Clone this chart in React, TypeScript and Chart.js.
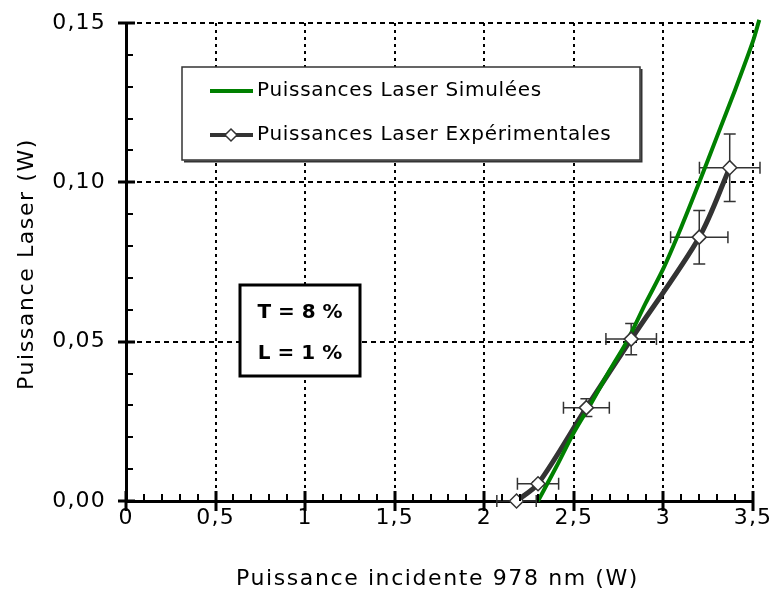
import React, { useEffect, useRef } from "react";
import { Chart, registerables } from "chart.js";

Chart.register(...registerables);

// ---------- data ----------
const simX = [2.3, 2.4, 2.5, 2.6, 2.7, 2.8, 2.9, 3.0, 3.1, 3.2, 3.3, 3.4, 3.5, 3.535];
const simY = [0, 0.0105, 0.0215, 0.031, 0.041, 0.0505, 0.062, 0.073, 0.086, 0.1, 0.1145, 0.129, 0.1443, 0.151];

const expX = [2.18, 2.3, 2.57, 2.82, 3.2, 3.37];
const expY = [0.0, 0.0054, 0.0293, 0.0508, 0.0828, 0.1046];
const expXErr = [0.11, 0.115, 0.128, 0.141, 0.16, 0.169];
const expYErr = [0, 0.0006, 0.0028, 0.0049, 0.0084, 0.0106];

const xTicks = [0, 0.5, 1, 1.5, 2, 2.5, 3, 3.5];
const yTicks = [0, 0.05, 0.1, 0.15];
const xMinorStep = 0.1;
const yMinorStep = 0.01;

const legendLabels = ["Puissances Laser Simulées", "Puissances Laser Expérimentales"];
const paramLines = ["T = 8 %", "L = 1 %"];
const xTitle = "Puissance incidente 978 nm (W)";
const yTitle = "Puissance Laser (W)";

const GREEN = "#008000";
const DARK = "#333333";
const FONT = "'DejaVu Sans', sans-serif";

const fmtX = (v: number) => String(v).replace(".", ",");
const fmtY = (v: number) => v.toFixed(2).replace(".", ",");

function drawDiamond(ctx: CanvasRenderingContext2D, x: number, y: number, r: number) {
  ctx.beginPath();
  ctx.moveTo(x, y - r);
  ctx.lineTo(x + r, y);
  ctx.lineTo(x, y + r);
  ctx.lineTo(x - r, y);
  ctx.closePath();
  ctx.fillStyle = "#fff";
  ctx.fill();
  ctx.strokeStyle = DARK;
  ctx.lineWidth = 1.5;
  ctx.stroke();
}

const spacingPlugin = {
  id: "spacing",
  beforeDraw(chart: any) {
    (chart.ctx as any).letterSpacing = "1.2px";
  },
};

const errorBarPlugin = {
  id: "errorBars",
  beforeDatasetsDraw(chart: any) {
    const { ctx, scales } = chart;
    const xs = scales.x, ys = scales.y;
    ctx.save();
    ctx.strokeStyle = DARK;
    ctx.lineWidth = 1.5;
    const cap = 6;
    expX.forEach((xv, i) => {
      const px = xs.getPixelForValue(xv);
      const py = ys.getPixelForValue(expY[i]);
      const xl = xs.getPixelForValue(xv - expXErr[i]);
      const xr = xs.getPixelForValue(xv + expXErr[i]);
      ctx.beginPath();
      ctx.moveTo(xl, py); ctx.lineTo(xr, py);
      ctx.moveTo(xl, py - cap); ctx.lineTo(xl, py + cap);
      ctx.moveTo(xr, py - cap); ctx.lineTo(xr, py + cap);
      if (expYErr[i] > 0) {
        const yt = ys.getPixelForValue(expY[i] + expYErr[i]);
        const yb = ys.getPixelForValue(expY[i] - expYErr[i]);
        ctx.moveTo(px, yt); ctx.lineTo(px, yb);
        ctx.moveTo(px - cap, yt); ctx.lineTo(px + cap, yt);
        ctx.moveTo(px - cap, yb); ctx.lineTo(px + cap, yb);
      }
      ctx.stroke();
    });
    ctx.restore();
  },
};

const decorPlugin = {
  id: "decor",
  afterDraw(chart: any) {
    const { ctx, scales, chartArea } = chart;
    const xs = scales.x, ys = scales.y;
    ctx.save();

    // minor / major ticks
    ctx.strokeStyle = "#000";
    const b = chartArea.bottom, l = chartArea.left;
    ctx.lineWidth = 2;
    ctx.beginPath();
    for (let v = xTicks[0]; v <= xTicks[xTicks.length - 1] + 1e-9; v += xMinorStep) {
      const px = Math.round(xs.getPixelForValue(v));
      ctx.moveTo(px, b); ctx.lineTo(px, b - 7);
    }
    for (let v = yTicks[0]; v <= yTicks[yTicks.length - 1] + 1e-9; v += yMinorStep) {
      const py = Math.round(ys.getPixelForValue(v));
      ctx.moveTo(l, py); ctx.lineTo(l + 7, py);
    }
    ctx.stroke();
    ctx.lineWidth = 3;
    ctx.beginPath();
    xTicks.forEach((v) => {
      const px = Math.round(xs.getPixelForValue(v));
      ctx.moveTo(px, b - 10); ctx.lineTo(px, b + 10);
    });
    yTicks.forEach((v) => {
      const py = Math.round(ys.getPixelForValue(v));
      ctx.moveTo(l - 8, py); ctx.lineTo(l + 9, py);
    });
    ctx.stroke();

    // axis titles
    ctx.fillStyle = "#000";
    ctx.font = `22px ${FONT}`;
    (ctx as any).letterSpacing = "1.6px";
    ctx.textAlign = "center";
    ctx.textBaseline = "middle";
    ctx.fillText(xTitle, (chartArea.left + chartArea.right) / 2 - 2, chartArea.bottom + 78);
    ctx.save();
    ctx.translate(27, (chartArea.top + chartArea.bottom) / 2 + 2);
    ctx.rotate(-Math.PI / 2);
    ctx.fillText(yTitle, 0, 0);
    ctx.restore();

    // legend box
    const lx = chartArea.left + 56, ly = chartArea.top + 44, lw = 458, lh = 93;
    ctx.fillStyle = "#fff";
    ctx.fillRect(lx, ly, lw, lh);
    ctx.strokeStyle = DARK;
    ctx.lineWidth = 1.5;
    ctx.strokeRect(lx, ly, lw, lh);
    ctx.lineWidth = 2;
    ctx.beginPath();
    ctx.moveTo(lx + lw + 1.5, ly + 2); ctx.lineTo(lx + lw + 1.5, ly + lh + 1.5); ctx.lineTo(lx + 2, ly + lh + 1.5);
    ctx.stroke();

    const r1 = ly + 24, r2 = ly + 68;
    ctx.lineWidth = 4;
    ctx.strokeStyle = GREEN;
    ctx.beginPath(); ctx.moveTo(lx + 28, r1); ctx.lineTo(lx + 71, r1); ctx.stroke();
    ctx.strokeStyle = DARK;
    ctx.beginPath(); ctx.moveTo(lx + 28, r2); ctx.lineTo(lx + 71, r2); ctx.stroke();
    drawDiamond(ctx, lx + 49, r2, 6);

    ctx.fillStyle = "#000";
    ctx.font = `20px ${FONT}`;
    (ctx as any).letterSpacing = "0.7px";
    ctx.textAlign = "left";
    ctx.textBaseline = "middle";
    ctx.fillText(legendLabels[0], lx + 75, r1);
    ctx.fillText(legendLabels[1], lx + 75, r2);

    // parameter box
    (ctx as any).letterSpacing = "0px";
    const bx = chartArea.left + 114, by = chartArea.top + 262, bw = 120, bh = 91;
    ctx.fillStyle = "#fff";
    ctx.fillRect(bx, by, bw, bh);
    ctx.strokeStyle = "#000";
    ctx.lineWidth = 3;
    ctx.strokeRect(bx, by, bw, bh);
    ctx.fillStyle = "#000";
    ctx.font = `bold 20px ${FONT}`;
    ctx.textAlign = "center";
    ctx.fillText(paramLines[0], bx + bw / 2, by + 28);
    ctx.fillText(paramLines[1], bx + bw / 2, by + 69);

    ctx.restore();
  },
};

export default function App() {
  const ref = useRef<HTMLCanvasElement | null>(null);

  useEffect(() => {
    if (!ref.current) return;
    const chart = new Chart(ref.current, {
      type: "line",
      data: {
        datasets: [
          {
            label: legendLabels[1] + " points",
            data: expX.map((x, i) => ({ x, y: expY[i] })),
            showLine: false,
            pointStyle: "rectRot",
            pointRadius: 7,
            pointBackgroundColor: "#fff",
            pointBorderColor: DARK,
            pointBorderWidth: 1.5,
            clip: false,
          },
          {
            label: legendLabels[0],
            data: simX.map((x, i) => ({ x, y: simY[i] })),
            borderColor: GREEN,
            borderWidth: 4,
            pointRadius: 0,
            tension: 0.3,
            clip: false,
          },
          {
            label: legendLabels[1],
            data: expX.map((x, i) => ({ x, y: expY[i] })),
            borderColor: DARK,
            borderWidth: 5,
            pointRadius: 0,
            tension: 0.3,
            clip: false,
          },
        ],
      },
      options: {
        responsive: false,
        animation: false,
        events: [],
        layout: { padding: { top: 23, right: 20, bottom: 0, left: 0 } },
        plugins: { legend: { display: false }, tooltip: { enabled: false } },
        scales: {
          x: {
            type: "linear",
            afterDataLimits: (s: any) => { s.min = xTicks[0]; s.max = xTicks[xTicks.length - 1]; },
            afterBuildTicks: (s: any) => { s.ticks = xTicks.map((v) => ({ value: v })); },
            afterFit: (s: any) => { s.height = 98; s.paddingLeft = 0; s.paddingRight = 0; },
            ticks: {
              callback: (v: any) => fmtX(Number(v)),
              color: "#000",
              font: { family: FONT, size: 22 },
              padding: 4,
              maxRotation: 0,
              autoSkip: false,
            },
            grid: {
              color: "#000",
              lineWidth: (c: any) => (c.tick && c.tick.value === 0 ? 0 : 2),
              drawTicks: false,
            },
            border: { display: true, color: "#000", width: 3, dash: [3, 4] },
          },
          y: {
            type: "linear",
            min: 0,
            max: 0.15,
            afterBuildTicks: (s: any) => { s.ticks = yTicks.map((v) => ({ value: v })); },
            afterFit: (s: any) => { s.width = 126; s.paddingTop = 0; s.paddingBottom = 0; },
            ticks: {
              callback: (v: any) => fmtY(Number(v)),
              color: "#000",
              font: { family: FONT, size: 22 },
              padding: 20,
            },
            grid: {
              color: "#000",
              lineWidth: (c: any) => (c.tick && c.tick.value === 0 ? 0 : 2),
              drawTicks: false,
            },
            border: { display: true, color: "#000", width: 3, dash: [5, 4] },
          },
        },
      },
      plugins: [spacingPlugin, errorBarPlugin, decorPlugin],
    } as any);
    return () => chart.destroy();
  }, []);

  return (
    <div style={{ position: "absolute", left: 0, top: 0, width: 773, height: 599, background: "#fff" }}>
      <canvas ref={ref} width={773} height={599} />
    </div>
  );
}
